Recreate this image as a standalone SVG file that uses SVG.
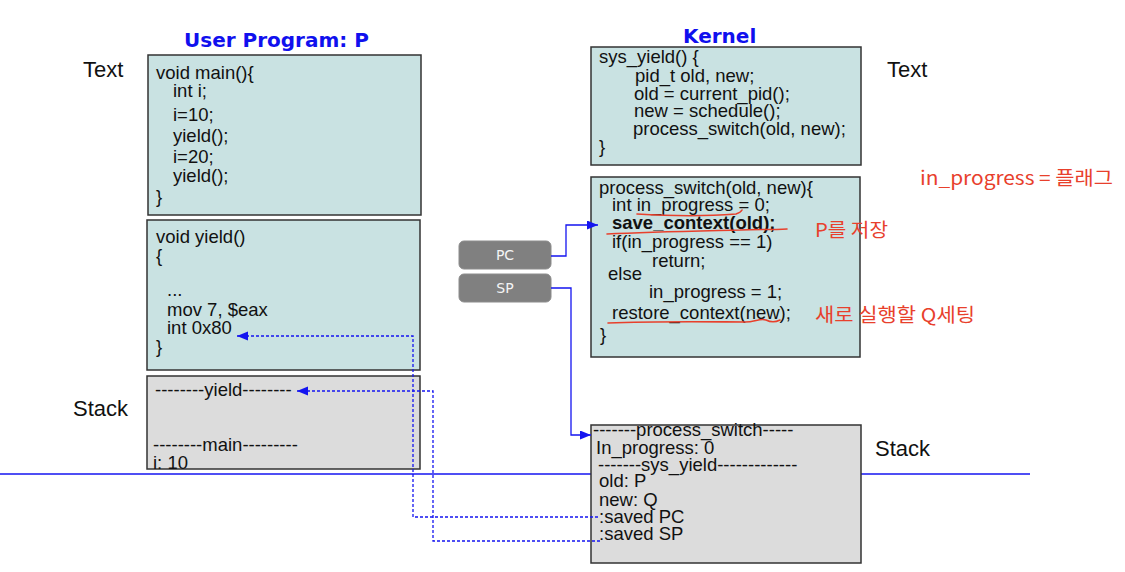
<svg xmlns="http://www.w3.org/2000/svg" width="1125" height="572" viewBox="0 0 1125 572">
  <style>
    .code { font-family: "Liberation Sans", Arial, sans-serif; font-size: 18.5px; fill: #111; }
    .bold { font-weight: bold; }
    .title { font-family: "DejaVu Sans", Verdana, sans-serif; font-size: 20px; font-weight: bold; fill: #1010ee; }
    .label { font-family: "Liberation Sans", Arial, sans-serif; font-size: 22px; fill: #111; }
    .text-box { fill: #c9e2e2; stroke: #333; stroke-width: 1.5; }
    .stack-box { fill: #dcdcdc; stroke: #333; stroke-width: 1.5; }
    .reg { fill: #808080; stroke: #8c8c8c; stroke-width: 1; }
    .reg-label { font-family: "DejaVu Sans", Verdana, sans-serif; font-size: 14px; fill: #f4f4f4; text-anchor: middle; }
    .wire { fill: none; stroke: #1414f0; stroke-width: 1.3; }
    .dashed { stroke-dasharray: 3 2; }
    .ink { fill: none; stroke: #e8402c; stroke-width: 1.6; stroke-linecap: round; stroke-linejoin: round; }
    .note { font-family: "Noto Sans CJK KR", "Noto Sans", sans-serif; font-size: 19px; fill: #e8402c; }
  </style>
  <defs>
    <marker id="arrow" markerUnits="userSpaceOnUse" markerWidth="12" markerHeight="10" refX="11" refY="4.5" orient="auto">
      <path d="M0,0 L11,4.5 L0,9 z" fill="#1414f0" stroke="none"/>
    </marker>
  </defs>

  <rect width="1125" height="572" fill="#ffffff"/>

  <!-- boundary between text and stack areas -->
  <line x1="0" y1="474" x2="1030" y2="474" stroke="#1414f0" stroke-width="1.3"/>

  <!-- section titles and area labels -->
  <text class="title" x="184" y="47">User Program: P</text>
  <text class="title" x="683" y="43">Kernel</text>
  <text class="label" x="83" y="77">Text</text>
  <text class="label" x="73" y="416">Stack</text>
  <text class="label" x="887" y="77">Text</text>
  <text class="label" x="875" y="456">Stack</text>

  <!-- user program: main() -->
  <g id="main-fn">
    <rect class="text-box" x="148" y="55" width="273" height="160"/>
    <text class="code" x="156" y="79">void main(){</text>
    <text class="code" x="173" y="97">int i;</text>
    <text class="code" x="173" y="121">i=10;</text>
    <text class="code" x="173" y="142">yield();</text>
    <text class="code" x="173" y="163">i=20;</text>
    <text class="code" x="173" y="182">yield();</text>
    <text class="code" x="156" y="203">}</text>
  </g>

  <!-- user program: yield() -->
  <g id="yield-fn">
    <rect class="text-box" x="147" y="220" width="273" height="150"/>
    <text class="code" x="156" y="243">void yield()</text>
    <text class="code" x="156" y="262">{</text>
    <text class="code" x="167" y="296">...</text>
    <text class="code" x="167" y="316">mov 7, $eax</text>
    <text class="code" x="167" y="334">int 0x80</text>
    <text class="code" x="156" y="353">}</text>
  </g>

  <!-- user stack -->
  <g id="user-stack">
    <rect class="stack-box" x="147" y="376" width="273" height="93"/>
    <text class="code" x="155" y="396">--------yield--------</text>
    <text class="code" x="153" y="451">--------main---------</text>
    <text class="code" x="153" y="469">i: 10</text>
  </g>

  <!-- kernel: sys_yield() -->
  <g id="sys-yield-fn">
    <rect class="text-box" x="591" y="47" width="270" height="118"/>
    <text class="code" x="599" y="63">sys_yield() {</text>
    <text class="code" x="635" y="82">pid_t old, new;</text>
    <text class="code" x="634" y="100">old = current_pid();</text>
    <text class="code" x="634" y="117">new = schedule();</text>
    <text class="code" x="633" y="135">process_switch(old, new);</text>
    <text class="code" x="599" y="153">}</text>
  </g>

  <!-- kernel: process_switch() -->
  <g id="process-switch-fn">
    <rect class="text-box" x="591" y="177" width="269" height="180"/>
    <text class="code" x="599" y="194">process_switch(old, new){</text>
    <text class="code" x="612" y="211">int in_progress = 0;</text>
    <text class="code bold" x="612" y="229">save_context(old);</text>
    <text class="code" x="612" y="248">if(in_progress == 1)</text>
    <text class="code" x="652" y="267">return;</text>
    <text class="code" x="608" y="280">else</text>
    <text class="code" x="649" y="298">in_progress = 1;</text>
    <text class="code" x="612" y="319">restore_context(new);</text>
    <text class="code" x="600" y="341">}</text>
  </g>

  <!-- kernel stack -->
  <g id="kernel-stack">
    <rect class="stack-box" x="591" y="425" width="270" height="138"/>
    <text class="code" x="593" y="436">-------process_switch-----</text>
    <text class="code" x="596" y="454">In_progress: 0</text>
    <text class="code" x="598" y="471">-------sys_yield-------------</text>
    <text class="code" x="599" y="487">old: P</text>
    <text class="code" x="599" y="506">new: Q</text>
    <text class="code" x="599" y="523">:saved PC</text>
    <text class="code" x="599" y="540">:saved SP</text>
  </g>

  <!-- CPU registers -->
  <g id="reg-pc">
    <rect class="reg" x="459" y="241" width="92" height="28" rx="5"/>
    <text class="reg-label" x="505" y="260">PC</text>
  </g>
  <g id="reg-sp">
    <rect class="reg" x="459" y="274" width="92" height="28" rx="5"/>
    <text class="reg-label" x="505" y="293">SP</text>
  </g>

  <!-- connectors -->
  <g id="connectors">
    <path class="wire" d="M551,256 H566 V225 H598" marker-end="url(#arrow)"/>
    <path class="wire" d="M551,288 H571 V435 H591" marker-end="url(#arrow)"/>
    <path class="wire dashed" d="M598,517 H413 V336 H237" marker-end="url(#arrow)"/>
    <path class="wire dashed" d="M600,541 H433 V391 H297" marker-end="url(#arrow)"/>
  </g>

  <!-- handwritten notes -->
  <g id="notes">
    <path class="ink" d="M637,214 C670,216 710,216 736,214 C739,213 741,212 742,210"/>
    <path class="ink" d="M607,234 C650,232 700,231 740,230 C755,229 770,230 787,229"/>
    <path class="ink" d="M608,323 C660,321 720,322 745,322 C755,322 760,318 766,320 C772,323 776,322 780,320"/>
    <text class="note" x="815" y="237" textLength="73" lengthAdjust="spacingAndGlyphs">P를 저장</text>
    <text class="note" x="815" y="322" textLength="160" lengthAdjust="spacingAndGlyphs">새로 실행할 Q세팅</text>
    <text class="note" x="920" y="185" textLength="193" lengthAdjust="spacingAndGlyphs">in_progress = 플래그</text>
  </g>
</svg>
